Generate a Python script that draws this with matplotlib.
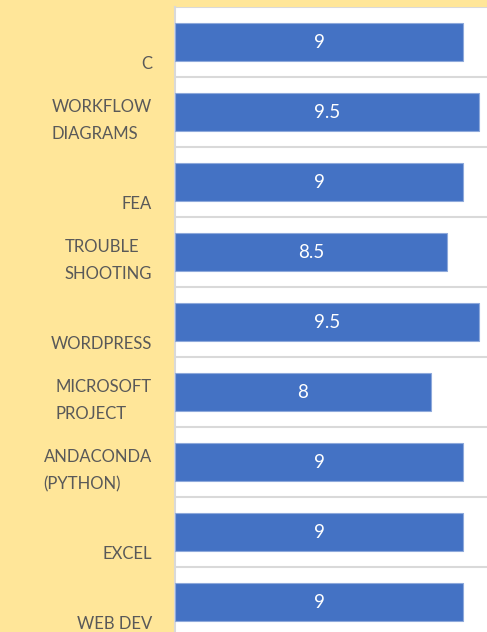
import numpy as np
import matplotlib
matplotlib.use("Agg")
import matplotlib.pyplot as plt

plt.rcParams['font.family'] = ['Lato', 'DejaVu Sans']

skills = ["C", "WORKFLOW\nDIAGRAMS", "FEA", "TROUBLE\nSHOOTING", "WORDPRESS",
          "MICROSOFT\nPROJECT", "ANDACONDA\n(PYTHON)", "EXCEL", "WEB DEV"]
scores = [9, 9.5, 9, 8.5, 9.5, 8, 9, 9, 9]
score_labels = ["9", "9.5", "9", "8.5", "9.5", "8", "9", "9", "9"]

bg = '#FFE699'
bar_col = '#4472C4'
grid_col = '#D9D9D9'
label_col = '#595959'

fig = plt.figure(figsize=(4.87, 6.32), dpi=100, facecolor=bg)
# plot area runs off the bottom of the picture like the original
ax = fig.add_axes([175/487, -5/632, 312/487, 630/632])
ax.set_facecolor('white')

ypos = np.arange(len(skills))
ax.barh(ypos, scores, height=0.54, color=bar_col, edgecolor='#8EA9DB', linewidth=0.8, zorder=3)

for y, v, s in zip(ypos, scores, score_labels):
    ax.text(v/2, y, s, ha='center', va='center', color='white', fontsize=13.5, zorder=4)

# category labels sit low in each band
for y, name in zip(ypos, skills):
    ax.text(-0.074, y + 0.435, name, transform=ax.get_yaxis_transform(),
            ha='right', va='bottom', multialignment='left', color=label_col,
            fontsize=12, linespacing=1.85)

ax.set_xlim(0, 9.75)
ax.set_ylim(8.5, -0.5)
ax.set_xticks([])
ax.set_yticks([])
ax.set_yticks(np.arange(-0.5, 9, 1), minor=True)
ax.tick_params(which='both', length=0, labelleft=False)
ax.grid(which='minor', axis='y', color=grid_col, linewidth=1.5, zorder=1)

for side in ['top', 'right', 'bottom']:
    ax.spines[side].set_visible(False)
ax.spines['left'].set_color(grid_col)
ax.spines['left'].set_linewidth(1.5)

plt.savefig('out.png', dpi=100, facecolor=bg)
